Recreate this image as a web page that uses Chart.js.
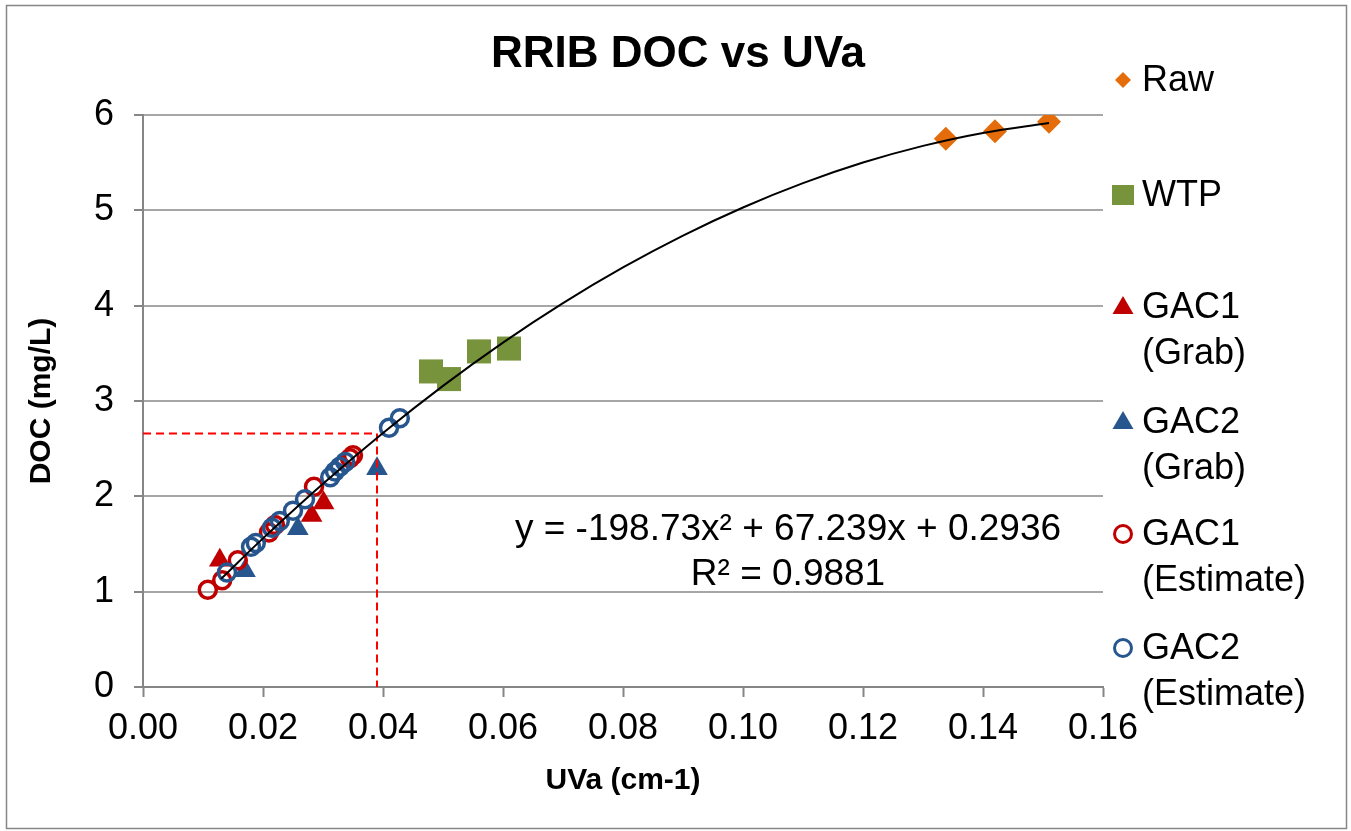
<!DOCTYPE html>
<html><head><meta charset="utf-8">
<script src="https://cdn.jsdelivr.net/npm/chart.js@4.4.0/dist/chart.umd.min.js"></script>
<style>html,body{margin:0;padding:0;background:#fff;}#wrap{width:1351px;height:831px;position:relative;}</style>
</head><body><div id="wrap"><canvas id="c" width="1351" height="831"></canvas></div>
<script>
// ---- data ----
const rawX = [0.1338, 0.1420, 0.1510];
const rawY = [5.75, 5.83, 5.93];
const wtpX = [0.0480, 0.0510, 0.0560, 0.0610];
const wtpY = [3.31, 3.23, 3.52, 3.55];
const gac1GrabX = [0.0128, 0.0281, 0.0301];
const gac1GrabY = [1.33, 1.80, 1.93];
const gac2GrabX = [0.0170, 0.0258, 0.0390];
const gac2GrabY = [1.22, 1.66, 2.29];
const gac1EstX = [0.0108, 0.0132, 0.0158, 0.0210, 0.0220, 0.0285, 0.0345, 0.0350];
const gac1EstY = [1.02, 1.12, 1.33, 1.62, 1.70, 2.10, 2.40, 2.43];
const gac2EstX = [0.0140, 0.0180, 0.0188, 0.0215, 0.0228, 0.0250, 0.0270, 0.0312, 0.0320, 0.0328, 0.0337, 0.0410, 0.0428];
const gac2EstY = [1.20, 1.47, 1.51, 1.67, 1.74, 1.85, 1.97, 2.20, 2.26, 2.31, 2.36, 2.72, 2.82];
// polynomial trendline
const trendX = [0.013, 0.02, 0.03, 0.04, 0.05, 0.06, 0.07, 0.08, 0.09, 0.10, 0.11, 0.12, 0.13, 0.14, 0.151];
const trendY = [1.134, 1.559, 2.132, 2.665, 3.159, 3.613, 4.027, 4.401, 4.735, 5.030, 5.285, 5.501, 5.676, 5.812, 5.916];
// red dashed guide
const guideX = [0, 0.039, 0.039];
const guideY = [2.66, 2.66, 0];
const xTicks = [0, 0.02, 0.04, 0.06, 0.08, 0.10, 0.12, 0.14, 0.16];
const yTicks = [0, 1, 2, 3, 4, 5, 6];
const seriesLabels = [["Raw"], ["WTP"], ["GAC1", "(Grab)"], ["GAC2", "(Grab)"], ["GAC1", "(Estimate)"], ["GAC2", "(Estimate)"]];
const titleText = "RRIB DOC vs UVa";
const xTitle = "UVa (cm-1)";
const yTitle = "DOC (mg/L)";
const eqText = "y = -198.73x² + 67.239x + 0.2936";
const r2Text = "R² = 0.9881";

const pts = (xs, ys) => xs.map((x, i) => ({x: x, y: ys[i]}));
const FONT = "'Liberation Sans', Arial, sans-serif";
const ORANGE = '#E46C0A', GREEN = '#77933C', RED = '#C00000', BLUE = '#27568F';

const datasets = [
  {label: 'trend', data: pts(trendX, trendY), showLine: true, borderColor: '#000', borderWidth: 2, pointRadius: 0, tension: 0.4, order: 0, fill: false},
  {label: 'guide', data: pts(guideX, guideY), showLine: true, borderColor: '#FF0000', borderWidth: 2, borderDash: [8, 5], pointRadius: 0, tension: 0, order: 1},
  {label: 'GAC2 (Estimate)', data: pts(gac2EstX, gac2EstY), pointStyle: 'circle', pointRadius: 8.5, borderWidth: 3.5, borderColor: BLUE, backgroundColor: 'rgba(0,0,0,0)', order: 2},
  {label: 'GAC1 (Estimate)', data: pts(gac1EstX, gac1EstY), pointStyle: 'circle', pointRadius: 8.5, borderWidth: 3.5, borderColor: RED, backgroundColor: 'rgba(0,0,0,0)', order: 3},
  {label: 'GAC2 (Grab)', data: pts(gac2GrabX, gac2GrabY), pointStyle: 'triangle', pointRadius: 12.5, borderWidth: 0, borderColor: BLUE, backgroundColor: BLUE, order: 4},
  {label: 'GAC1 (Grab)', data: pts(gac1GrabX, gac1GrabY), pointStyle: 'triangle', pointRadius: 12.5, borderWidth: 0, borderColor: RED, backgroundColor: RED, order: 5},
  {label: 'WTP', data: pts(wtpX, wtpY), pointStyle: 'rect', pointRadius: 17, borderWidth: 0, borderColor: GREEN, backgroundColor: GREEN, order: 6},
  {label: 'Raw', data: pts(rawX, rawY), pointStyle: 'rectRot', pointRadius: 12, borderWidth: 0, borderColor: ORANGE, backgroundColor: ORANGE, order: 7}
];

const legendDefs = [
  {style: 'diamond', color: ORANGE},
  {style: 'square', color: GREEN},
  {style: 'triangle', color: RED},
  {style: 'triangle', color: BLUE},
  {style: 'circle', color: RED},
  {style: 'circle', color: BLUE}
];

function drawMarker(ctx, style, color, x, y) {
  ctx.save();
  ctx.fillStyle = color; ctx.strokeStyle = color;
  ctx.beginPath();
  if (style === 'diamond') {
    const r = 8;
    ctx.moveTo(x, y - r); ctx.lineTo(x + r, y); ctx.lineTo(x, y + r); ctx.lineTo(x - r, y); ctx.closePath(); ctx.fill();
  } else if (style === 'square') {
    ctx.rect(x - 11, y - 10, 22, 20); ctx.fill();
  } else if (style === 'triangle') {
    ctx.moveTo(x, y - 11); ctx.lineTo(x + 10.5, y + 7); ctx.lineTo(x - 10.5, y + 7); ctx.closePath(); ctx.fill();
  } else {
    ctx.lineWidth = 3; ctx.arc(x, y, 8.5, 0, Math.PI * 2); ctx.stroke();
  }
  ctx.restore();
}

const decor = {
  id: 'decor',
  afterDraw(chart) {
    const ctx = chart.ctx;
    ctx.save();
    // outer border
    ctx.strokeStyle = '#868686'; ctx.lineWidth = 1.5;
    ctx.strokeRect(6.5, 5.5, 1340, 823);
    // title
    ctx.fillStyle = '#000';
    ctx.font = 'bold 44px ' + FONT;
    ctx.textAlign = 'center'; ctx.textBaseline = 'alphabetic';
    ctx.fillText(titleText, 678, 67);
    // equation
    ctx.font = '37px ' + FONT;
    ctx.fillText(eqText, 788, 540);
    ctx.fillText(r2Text, 788, 585);
    // legend
    const tops = [80, 195, 307, 422, 534, 648];
    ctx.textAlign = 'left'; ctx.textBaseline = 'middle';
    ctx.font = '36px ' + FONT;
    seriesLabels.forEach((lines, i) => {
      drawMarker(ctx, legendDefs[i].style, legendDefs[i].color, 1123, tops[i]);
      lines.forEach((t, j) => ctx.fillText(t, 1142, tops[i] + j * 46 + 1));
    });
    ctx.restore();
  }
};

new Chart(document.getElementById('c'), {
  type: 'scatter',
  data: {datasets: datasets},
  options: {
    responsive: false, animation: false, devicePixelRatio: 1,
    layout: {padding: {top: 115, right: 248, left: 0, bottom: 0}},
    plugins: {legend: {display: false}, title: {display: false}, tooltip: {enabled: false}},
    scales: {
      x: {
        type: 'linear', min: 0, max: 0.16,
        afterFit: s => { s.height = 144; },
        afterBuildTicks: s => { s.ticks = xTicks.map(v => ({value: v})); },
        ticks: {font: {family: FONT, size: 36}, color: '#000', padding: 10, maxRotation: 0, callback: v => v.toFixed(2)},
        grid: {display: true, drawOnChartArea: false, drawTicks: true, tickLength: 10, tickColor: '#868686', tickWidth: 2, color: '#868686'},
        border: {display: true, color: '#868686', width: 2},
        title: {display: true, text: xTitle, font: {family: FONT, size: 30, weight: 'bold'}, color: '#000', padding: {top: 0, bottom: 32}}
      },
      y: {
        type: 'linear', min: 0, max: 6,
        afterFit: s => { s.width = 143; },
        afterBuildTicks: s => { s.ticks = yTicks.map(v => ({value: v})); },
        ticks: {font: {family: FONT, size: 36}, color: '#000', padding: 20},
        grid: {color: '#A6A6A6', lineWidth: 2, drawTicks: true, tickLength: 9, tickColor: '#868686', tickWidth: 2},
        border: {display: true, color: '#868686', width: 2},
        title: {display: true, text: yTitle, font: {family: FONT, size: 30, weight: 'bold'}, color: '#000', padding: {top: 24, bottom: 0}}
      }
    }
  },
  plugins: [decor]
});
</script></body></html>
